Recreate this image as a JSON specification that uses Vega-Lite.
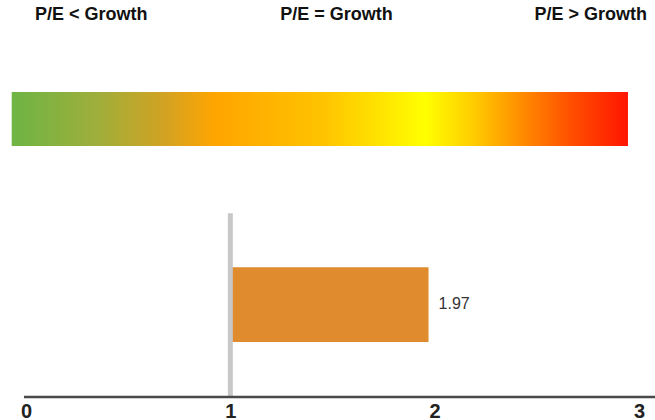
{
  "$schema": "https://vega.github.io/schema/vega-lite/v6.json",
  "width": 613,
  "height": 397,
  "autosize": "none",
  "padding": {"left": 26, "top": 0, "right": 16, "bottom": 23},
  "background": "white",
  "config": {"view": {"stroke": null}, "font": "Liberation Sans"},
  "datasets": {
    "labels": [
      {"label": "P/E < Growth", "side": "below"},
      {"label": "P/E = Growth", "side": "equal"},
      {"label": "P/E > Growth", "side": "above"}
    ],
    "ratio": [{"metric": "P/E to Growth", "base": 1, "value": 1.97}]
  },
  "layer": [
    {
      "data": {"values": [{"band": "P/E vs Growth"}]},
      "mark": {
        "type": "rect",
        "color": {
          "gradient": "linear",
          "x1": 0, "x2": 1, "y1": 0, "y2": 0,
          "stops": [
            {"offset": 0, "color": "#6db545"},
            {"offset": 0.14, "color": "#9fae3a"},
            {"offset": 0.25, "color": "#d3a222"},
            {"offset": 0.33, "color": "#ffa500"},
            {"offset": 0.5, "color": "#ffc200"},
            {"offset": 0.6, "color": "#ffe400"},
            {"offset": 0.67, "color": "#ffff00"},
            {"offset": 0.75, "color": "#ffcc00"},
            {"offset": 0.83, "color": "#ff8a00"},
            {"offset": 0.91, "color": "#ff4d00"},
            {"offset": 1, "color": "#ff1500"}
          ]
        }
      },
      "encoding": {
        "x": {"datum": -0.07, "type": "quantitative", "scale": {"domain": [0, 3]}, "axis": {"values": [0, 1, 2, 3], "format": "d", "grid": false, "ticks": false, "domain": false, "title": null, "labelFontSize": 20, "labelFontWeight": "bold", "labelColor": "#222", "labelPadding": 4, "labelFlush": false}},
        "x2": {"datum": 2.946},
        "y": {"datum": 76.8, "type": "quantitative", "scale": {"domain": [0, 100]}, "axis": null},
        "y2": {"datum": 63.2}
      }
    },
    {
      "data": {"name": "labels"},
      "transform": [{"filter": "datum.side == 'below'"}],
      "mark": {"type": "text", "align": "left", "baseline": "middle", "dx": 9, "fontSize": 18, "fontWeight": "bold", "color": "#111"},
      "encoding": {
        "x": {"datum": 0, "type": "quantitative"},
        "y": {"datum": 96.2, "type": "quantitative"},
        "text": {"field": "label"}
      }
    },
    {
      "data": {"name": "labels"},
      "transform": [{"filter": "datum.side == 'equal'"}],
      "mark": {"type": "text", "align": "center", "baseline": "middle", "dx": 4, "fontSize": 18, "fontWeight": "bold", "color": "#111"},
      "encoding": {
        "x": {"datum": 1.5, "type": "quantitative"},
        "y": {"datum": 96.2, "type": "quantitative"},
        "text": {"field": "label"}
      }
    },
    {
      "data": {"name": "labels"},
      "transform": [{"filter": "datum.side == 'above'"}],
      "mark": {"type": "text", "align": "right", "baseline": "middle", "dx": 8, "fontSize": 18, "fontWeight": "bold", "color": "#111"},
      "encoding": {
        "x": {"datum": 3, "type": "quantitative"},
        "y": {"datum": 96.2, "type": "quantitative"},
        "text": {"field": "label"}
      }
    },
    {
      "data": {"name": "ratio"},
      "mark": {"type": "rect", "color": "#df8b2e"},
      "encoding": {
        "x": {"field": "base", "type": "quantitative"},
        "x2": {"field": "value"},
        "y": {"datum": 32.7, "type": "quantitative"},
        "y2": {"datum": 13.85}
      }
    },
    {
      "data": {"name": "ratio"},
      "mark": {"type": "text", "align": "left", "baseline": "middle", "dx": 10, "fontSize": 16, "color": "#333"},
      "encoding": {
        "x": {"field": "value", "type": "quantitative"},
        "y": {"datum": 23.3, "type": "quantitative"},
        "text": {"field": "value", "type": "quantitative", "format": ".2f"}
      }
    },
    {
      "data": {"name": "ratio"},
      "mark": {"type": "rule", "color": "#c8c8c8", "strokeWidth": 5},
      "encoding": {
        "x": {"field": "base", "type": "quantitative"},
        "y": {"datum": 46.3, "type": "quantitative"},
        "y2": {"datum": 0}
      }
    },
    {
      "data": {"values": [{"axis": "baseline"}]},
      "mark": {"type": "rule", "color": "#4a4a4a", "strokeWidth": 2.5},
      "encoding": {
        "x": {"datum": -0.01, "type": "quantitative"},
        "x2": {"datum": 3.08},
        "y": {"datum": 0, "type": "quantitative"}
      }
    }
  ]
}
